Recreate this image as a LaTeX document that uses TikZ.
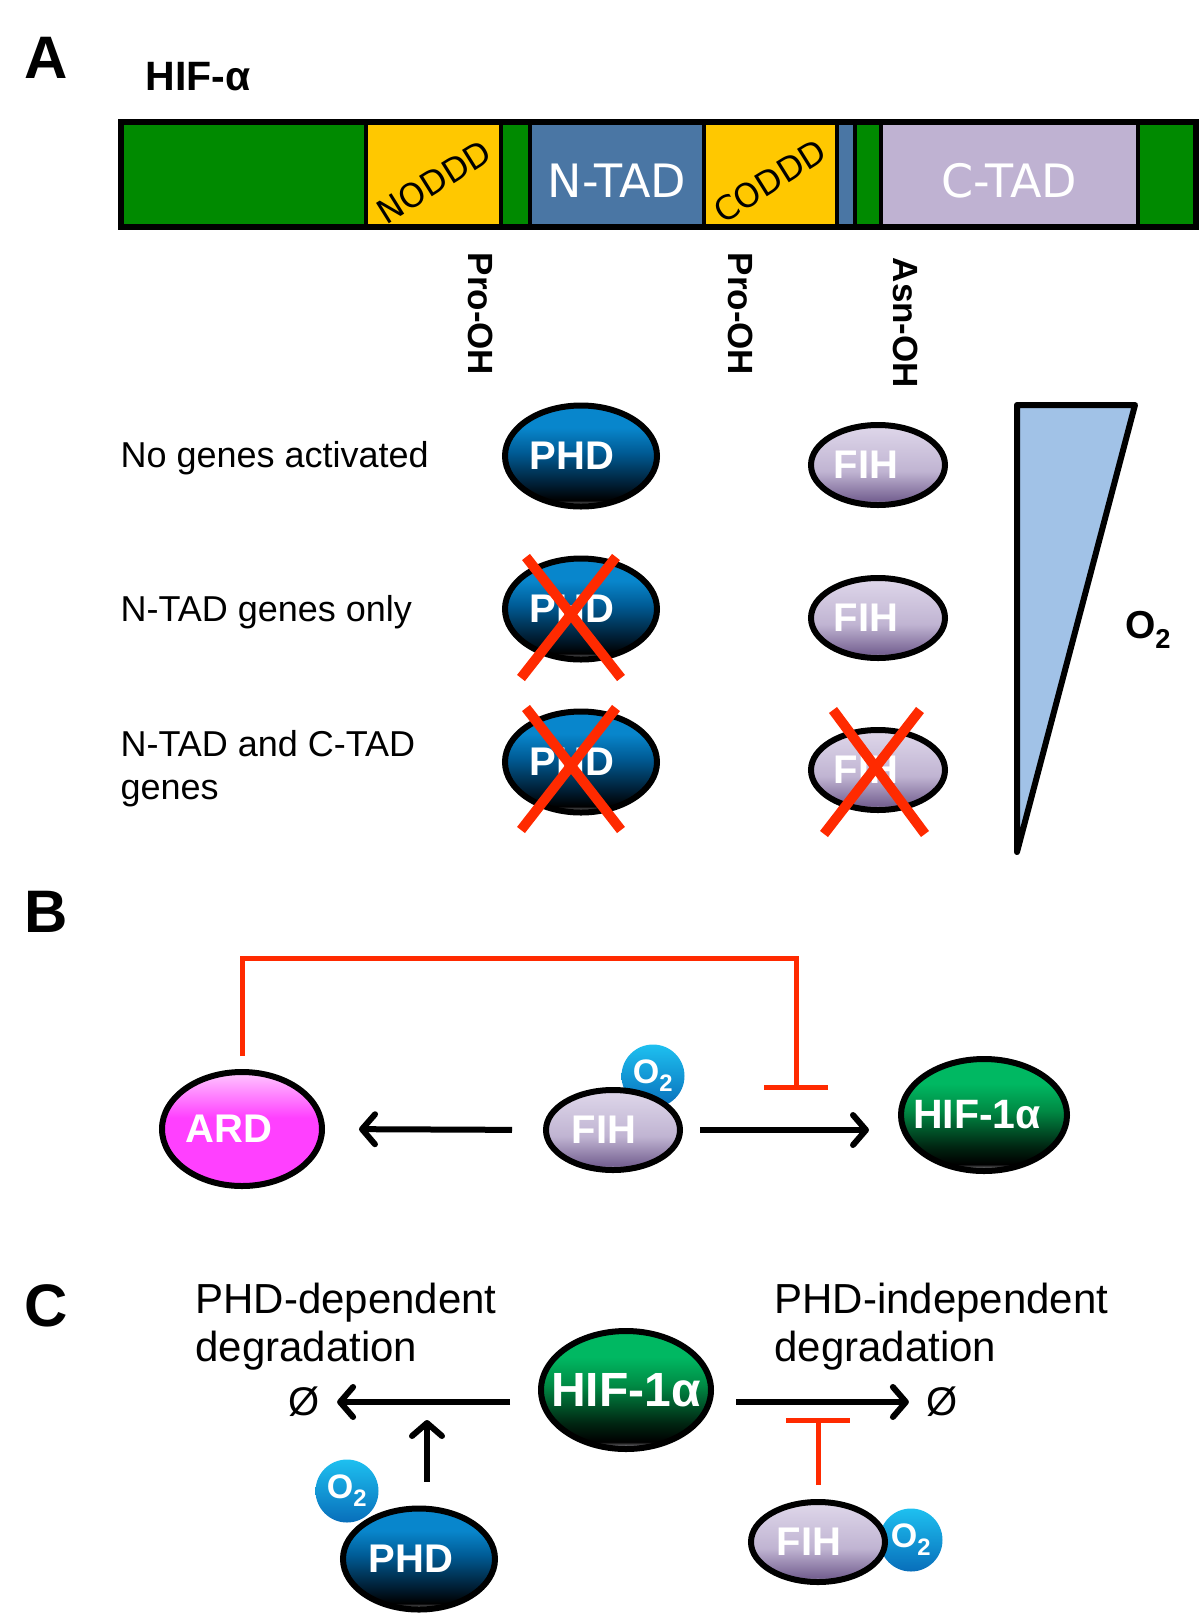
\documentclass[tikz,border=0pt]{standalone}
\usepackage{fontspec}
\setmainfont{Liberation Sans}
\newfontfamily\barfont{DejaVu Sans}
\usetikzlibrary{shapes.geometric,arrows.meta,positioning,calc}

\definecolor{hifgreen}{RGB}{0,138,0}
\definecolor{oddyellow}{RGB}{255,200,0}
\definecolor{tadblue}{RGB}{74,118,164}
\definecolor{tadlilac}{RGB}{191,178,210}
\definecolor{inhred}{RGB}{255,42,0}
\definecolor{wedgeblue}{RGB}{161,194,231}
\definecolor{glint}{RGB}{205,205,210}
\definecolor{phdtop}{RGB}{8,134,204}
\definecolor{phdmid}{RGB}{0,92,150}
\definecolor{phdlow}{RGB}{0,30,52}
\definecolor{fihtop}{RGB}{220,212,232}
\definecolor{fihmid}{RGB}{192,180,210}
\definecolor{fihlow}{RGB}{118,98,146}
\definecolor{hiftop}{RGB}{0,184,98}
\definecolor{hifmid}{RGB}{0,138,68}
\definecolor{hiflow}{RGB}{0,38,18}
\definecolor{ardtop}{RGB}{255,200,255}
\definecolor{ardmid}{RGB}{255,64,255}
\definecolor{oxytop}{RGB}{30,192,240}
\definecolor{oxylow}{RGB}{8,110,186}

\pgfdeclareverticalshading{phdshade}{100bp}{color(0bp)=(glint); color(25bp)=(glint); color(28bp)=(black); color(36bp)=(phdlow); color(52bp)=(phdmid); color(64bp)=(phdtop); color(100bp)=(phdtop)}
\pgfdeclareverticalshading{hifshade}{100bp}{color(0bp)=(glint); color(25bp)=(glint); color(28bp)=(black); color(36bp)=(hiflow); color(52bp)=(hifmid); color(64bp)=(hiftop); color(100bp)=(hiftop)}
\pgfdeclareverticalshading{fihshade}{100bp}{color(0bp)=(fihtop); color(25bp)=(fihtop); color(28bp)=(fihlow); color(46bp)=(fihmid); color(72bp)=(fihtop); color(100bp)=(fihtop)}
\pgfdeclareverticalshading{ardshade}{100bp}{color(0bp)=(ardmid); color(55bp)=(ardmid); color(75bp)=(ardtop); color(100bp)=(ardtop)}

\tikzset{
  panel/.style={font=\bfseries\fontsize{60}{60}\selectfont},
  rowtext/.style={anchor=west, align=left, font=\fontsize{36}{43}\selectfont},
  degtext/.style={anchor=west, align=left, font=\fontsize{42}{48}\selectfont},
  site/.style={rotate=-90, font=\bfseries\fontsize{35}{35}\selectfont},
  tadtext/.style={text=white, font=\barfont\fontsize{46}{46}\selectfont},
  degron/.style={rotate=32, inner sep=0pt, font=\barfont\fontsize{33}{33}\selectfont},
  prot/.style={ellipse, draw=black, line width=6pt, inner sep=0pt, text=white,
    font=\bfseries\fontsize{40}{40}\selectfont},
  phd/.style={prot, shading=phdshade, minimum width=152pt, minimum height=101pt},
  fih/.style={prot, shading=fihshade, minimum width=134pt, minimum height=80pt},
  hif/.style={prot, shading=hifshade, minimum width=164pt, minimum height=112pt},
  ard/.style={prot, shading=ardshade, minimum width=160pt, minimum height=114pt},
  oxy/.style={circle, inner sep=0pt, minimum size=63pt, top color=oxytop, bottom color=oxylow,
    text=white, font=\bfseries\fontsize{34}{34}\selectfont},
  act/.style={line width=6pt, -{Straight Barb[length=13pt,width=30pt,round]}},
  inhib/.style={inhred, line width=5pt, -{Bar[width=64pt,line width=5pt]}},
  xline/.style={inhred, line width=10pt},
}
\newcommand\leftish[2]{\makebox[0pt]{\hspace*{-#1pt}#2}}

\begin{document}
\begin{tikzpicture}[x=1pt, y=-1pt]
  \useasboundingbox (0,0) rectangle (1200,1615);

  % Panel A
  \node[panel] (labA) at (46,58) {A};
  \node[anchor=west, font=\bfseries\fontsize{41}{41}\selectfont] (hifa) at (142,77) {HIF-α};
  \foreach \xa/\xb/\col in {121/366/hifgreen, 366/501/oddyellow, 501/530/hifgreen, 530/704/tadblue,
      704/837/oddyellow, 837/855/tadblue, 855/881/hifgreen, 881/1138/tadlilac, 1138/1196/hifgreen}
    \draw[line width=4pt, fill=\col] (\xa,122) rectangle (\xb,227);
  \draw[line width=6pt] (121,122) rectangle (1196,227);
  \node[degron] (noddd) at (434,182) {NODDD};
  \node[tadtext] (ntad) at (617,181) {N-TAD};
  \node[degron] (coddd) at (770,181) {CODDD};
  \node[tadtext] (ctad) at (1009,181) {C-TAD};
  \node[site] (pro1) at (481,314) {Pro-OH};
  \node[site] (pro2) at (741,314) {Pro-OH};
  \node[site] (asn) at (906,323) {Asn-OH};

  \node[rowtext] (row1) at (117,458) {No genes activated};
  \node[rowtext] (row2) at (117,612) {N-TAD genes only};
  \node[rowtext] (row3) at (117,769) {N-TAD and C-TAD\\genes};

  \node[phd] (P1) at (581,456) {\leftish{18}{PHD}};
  \node[phd] (P2) at (581,609) {\leftish{18}{PHD}};
  \node[phd] (P3) at (581,762) {\leftish{18}{PHD}};
  \node[fih] (F1) at (878,465) {\leftish{24}{FIH}};
  \node[fih] (F2) at (878,618) {\leftish{24}{FIH}};
  \node[fih] (F3) at (878,770) {\leftish{24}{FIH}};
  \draw[xline] ($(P2)+(-55,-52)$) -- ($(P2)+(40,69)$);
  \draw[xline] ($(P2)+(35,-52)$) -- ($(P2)+(-60,69)$);
  \draw[xline] ($(P3)+(-55,-54)$) -- ($(P3)+(40,68)$);
  \draw[xline] ($(P3)+(35,-54)$) -- ($(P3)+(-60,68)$);
  \draw[xline] ($(F3)+(-45,-60)$) -- ($(F3)+(47,64)$);
  \draw[xline] ($(F3)+(42,-60)$) -- ($(F3)+(-54,64)$);

  \draw[line width=6pt, line join=round, fill=wedgeblue] (1017,405) -- (1135,405) -- (1017,852) -- cycle;
  \node[font=\bfseries\fontsize{39}{39}\selectfont] (o2a) at (1148,630) {O\textsubscript{2}};

  % Panel B
  \node[panel] (labB) at (46,912) {B};
  \node[ard] (ARD) at (242,1129) {\leftish{26}{ARD}};
  \node[oxy] (o2b) at (653,1076) {O\textsubscript{2}};
  \node[fih] (FIHb) at (613,1130) {\leftish{18}{FIH}};
  \node[hif, minimum width=166pt, font=\bfseries\fontsize{41}{41}\selectfont] (HIFb) at (984,1115) {\leftish{14}{HIF-1α}};
  \draw[act, shorten <=31pt, shorten >=34pt] (FIHb.west) -- (ARD.east);
  \coordinate (inhB) at (796,1090);
  \draw[act, shorten <=17pt, shorten >=29pt] (FIHb.east) -- (FIHb.east -| HIFb.west);
  \draw[inhib, shorten <=13pt] (ARD.north) |- (796,958) -- (inhB);

  % Panel C
  \node[panel] (labC) at (46,1306) {C};
  \node[degtext] (depL) at (192,1327) {PHD-dependent\\degradation};
  \node[degtext] (depR) at (771,1327) {PHD-independent\\degradation};
  \node[hif, minimum width=170pt, minimum height=118pt, font=\bfseries\fontsize{48}{48}\selectfont] (HIFc) at (626,1390) {\makebox[0pt]{HIF-1α}};
  \node[font=\fontsize{40}{40}\selectfont] (nullL) at (304,1402) {Ø};
  \node[font=\fontsize{40}{40}\selectfont] (nullR) at (942,1402) {Ø};
  \draw[act, shorten <=28pt, shorten >=14pt] (HIFc.west |- nullL) -- (nullL.east);
  \draw[act, shorten <=22pt, shorten >=14pt] (HIFc.east |- nullR) -- (nullR.west);

  \node[oxy] (o2c) at (347,1491) {O\textsubscript{2}};
  \node[phd] (PHDc) at (419,1559) {\leftish{16}{PHD}};
  \coordinate (actC) at (427,1402);
  \draw[act, shorten <=24pt, shorten >=18pt] (PHDc.north -| actC) -- (actC);

  \node[oxy] (o2d) at (911,1540) {O\textsubscript{2}};
  \node[fih] (FIHc) at (818,1542) {\leftish{18}{FIH}};
  \coordinate (inhC) at (818,1418);
  \draw[inhib, shorten <=14pt] (FIHc.north) -- (inhC);
\end{tikzpicture}
\end{document}
